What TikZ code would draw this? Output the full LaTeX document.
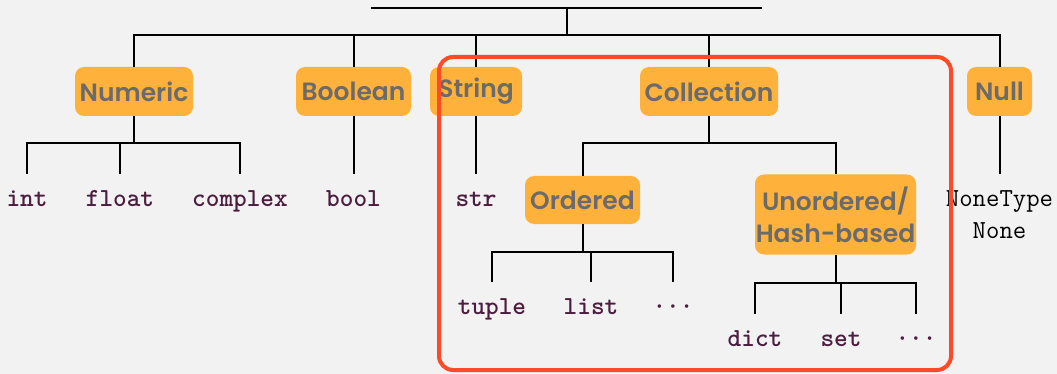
\documentclass[tikz,border=0pt]{standalone}
\usepackage{fontspec}
\newfontfamily\labelfont{Poppins SemiBold}
\definecolor{bgray}{HTML}{F2F2F2}
\definecolor{boxorange}{HTML}{FFB23B}
\definecolor{labelgray}{HTML}{6B6B6B}
\definecolor{leafpurple}{HTML}{4C1D3E}
\definecolor{framered}{HTML}{FF4A2A}
\begin{document}
\begin{tikzpicture}[x=1pt,y=-1pt,
  catbox/.style={fill=boxorange, rounded corners=9pt, text=labelgray,
    font=\labelfont\fontsize{25}{32}\selectfont, minimum height=49pt,
    inner sep=0pt, align=center},
  leaf/.style={anchor=north, inner sep=0pt, text height=32pt, text=leafpurple,
    font=\ttfamily\bfseries\fontsize{26}{32}\selectfont},
  link/.style={draw=black, line width=2pt},
  frame/.style={draw=framered, line width=4pt, rounded corners=14pt}]
\useasboundingbox (0,0) rectangle (1057,374);
\fill[bgray] (0,0) rectangle (1057,374);
% category boxes
\node[catbox, minimum width=118pt] (numeric) at (134,91.5) {Numeric};
\node[catbox, minimum width=115pt] (boolean) at (353.5,91.5) {Boolean};
\node[catbox, minimum width=92pt] (string) at (476,91.5) {String};
\node[catbox, minimum width=138pt] (collection) at (709,91.5) {Collection};
\node[catbox, minimum width=65pt] (null) at (999.5,91.5) {Null};
\node[catbox, minimum width=115pt, minimum height=48pt] (ordered) at (582.5,200) {Ordered};
\node[catbox, minimum width=161pt, minimum height=80pt] (unordered) at (835.5,214.5) {Unordered/\\Hash-based};
% leaves
\node[leaf] (int) at (27,174) {int};
\node[leaf] (float) at (120,174) {float};
\node[leaf] (complex) at (240,174) {complex};
\node[leaf] (bool) at (353.5,174) {bool};
\node[leaf] (str) at (476,174) {str};
\node[leaf, text=black, font=\ttfamily\fontsize{26}{32}\selectfont] (none) at (999.5,174)
  {\begin{tabular}[t]{@{}c@{}}NoneType\\None\end{tabular}};
\node[leaf] (tuple) at (492,282) {tuple};
\node[leaf] (list) at (591,282) {list};
\node[leaf] (odots) at (673,282) {···};
\node[leaf] (dict) at (755,314) {dict};
\node[leaf] (set) at (841,314) {set};
\node[leaf] (udots) at (916,314) {···};
% junctions
\coordinate (rootL) at (371,8);
\coordinate (rootR) at (762,8);
\coordinate (root) at (567,8);
\coordinate (j1) at (567,35);
\coordinate (nj) at (134,143);
\coordinate (cj) at (709,143);
\coordinate (oj) at (582.5,252);
\coordinate (uj) at (835.5,283);
% connectors
\draw[link] (rootL) -- (rootR);
\draw[link] (root) -- (j1);
\foreach \c in {numeric,boolean,string,collection,null}
  \draw[link] (j1) -| (\c.north);
\draw[link] (numeric.south) -- (nj);
\foreach \c in {int,float,complex}
  \draw[link] (nj) -| (\c.north);
\draw[link] (boolean.south) -- (bool.north);
\draw[link] (string.south) -- (str.north);
\draw[link] (null.south) -- (none.north);
\draw[link] (collection.south) -- (cj);
\foreach \c in {ordered,unordered}
  \draw[link] (cj) -| (\c.north);
\draw[link] (ordered.south) -- (oj);
\foreach \c in {tuple,list,odots}
  \draw[link] (oj) -| (\c.north);
\draw[link] (unordered.south) -- (uj);
\foreach \c in {dict,set,udots}
  \draw[link] (uj) -| (\c.north);
% highlight frame
\draw[frame] (439,57) rectangle (951,370);
\end{tikzpicture}
\end{document}
